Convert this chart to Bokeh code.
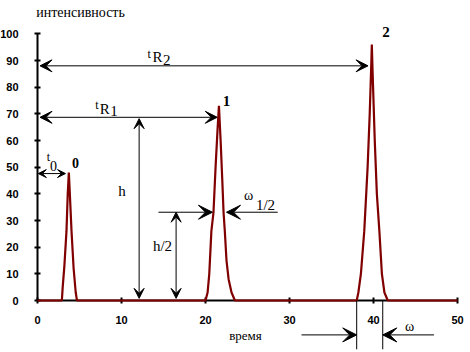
from bokeh.plotting import figure
from bokeh.models import Range1d, Arrow, VeeHead, Label, FixedTicker
from bokeh.embed import file_html
from bokeh.resources import INLINE

# ---- data ----
time = [0, 2.9, 3.0, 3.2, 3.45, 3.6, 3.73, 3.85, 4.05, 4.3, 4.55, 4.7,
        20.0, 20.25, 20.45, 20.7, 20.95, 21.2, 21.45, 21.6, 21.8, 22.0, 22.15, 22.3, 22.5, 22.75, 23.1, 23.5,
        38.0, 38.2, 38.5, 38.9, 39.3, 39.55, 39.75, 39.8, 39.9, 40.15, 40.4, 40.7, 41.0, 41.3, 41.7,
        50]
intensity = [0, 0, 5, 13, 26, 40, 48, 40, 26, 12, 3, 0,
             0, 3, 10, 26, 33, 50, 65, 73, 60, 45, 33, 26, 15, 8, 3, 0,
             0, 3, 10, 26, 50, 70, 90, 96, 85, 60, 40, 26, 10, 3, 0,
             0]
peak_names = ["0", "1", "2"]
retention = [3.73, 21.6, 39.8]
peak_height = [48, 73, 96]
x_ticks = [0, 10, 20, 30, 40, 50]
y_ticks = [0, 10, 20, 30, 40, 50, 60, 70, 80, 90, 100]
base_width = [38.0, 41.1]

SERIF = "Liberation Serif"
SANS = "Liberation Sans"

p = figure(width=470, height=352, output_backend="svg", toolbar_location=None,
           x_range=Range1d(-4.405, 51.548), y_range=Range1d(-19.5, 112.5),
           min_border=0)
p.title.visible = False
p.grid.visible = False
p.outline_line_color = None
p.background_fill_color = "white"
p.border_fill_color = "white"

for ax, ticks, bounds in ((p.xaxis[0], x_ticks, (0, 50)), (p.yaxis[0], y_ticks, (0, 100))):
    ax.fixed_location = 0
    ax.ticker = FixedTicker(ticks=ticks)
    ax.bounds = bounds
    ax.axis_line_width = 2
    ax.axis_line_color = "black"
    ax.major_tick_line_width = 2
    ax.major_tick_line_color = "black"
    ax.major_tick_in = 3
    ax.major_tick_out = 3
    ax.minor_tick_line_color = None
    ax.major_label_text_font = SANS
    ax.major_label_text_font_style = "bold"
    ax.major_label_text_font_size = "11px"
    ax.major_label_text_color = "black"
p.xaxis.major_label_standoff = 12
p.yaxis.major_label_standoff = 16

trace = p.line(time, intensity, line_color="#800000", line_width=2.2)
trace.level = "annotation"

def arrow(x0, y0, x1, y1, size=11, start=True, end=True):
    p.add_layout(Arrow(
        start=VeeHead(size=size, fill_color="black", line_color="black", line_width=1) if start else None,
        end=VeeHead(size=size, fill_color="black", line_color="black", line_width=1) if end else None,
        x_start=x0, y_start=y0, x_end=x1, y_end=y1, line_color="black", line_width=1))

# retention time arrows
arrow(0.3, 88, retention[2] - 0.45, 88, size=12)
arrow(0.3, 68.7, retention[1] - 0.2, 68.7, size=12)
arrow(0.1, 47.6, retention[0] - 0.4, 47.6, size=8)
# peak height h and h/2
arrow(12.1, 68.2, 12.1, 0.8, size=10)
arrow(16.5, 33.1, 16.5, 0.8, size=10)
# width at half height
arrow(14.4, 33.1, 20.83, 33.1, size=14, start=False)
arrow(28.6, 33.1, 22.5, 33.1, size=14, start=False)
# base width
seg = p.segment(x0=base_width, y0=[0, 0], x1=base_width, y1=[-18.3, -18.3], line_color="black", line_width=1)
seg.level = "annotation"
arrow(31.43, -12.9, base_width[0], -12.9, size=14, start=False)
arrow(47.2, -12.9, base_width[1], -12.9, size=14, start=False)

def label(x, y, text, size="13px", font=SERIF, style="normal"):
    p.add_layout(Label(x=x, y=y, text=text, text_font=font, text_font_size=size,
                       text_font_style=style, text_align="center", text_baseline="middle",
                       text_color="black"))

label(5.12, 108, "интенсивность", size="14px")
label(24.76, -13.1, "время", size="13px")
label(44.29, -9.6, "ω", size="14px")
label(10.06, 41.25, "h", size="15px")
label(14.88, 20.6, "h/2", size="15px")
label(25.12, 39.4, "ω", size="14px")
label(27.14, 36.0, "1/2", size="15px")
# t_R1
label(7.08, 73.4, "t", size="12px")
label(8.0, 72.0, "R", size="15px")
label(9.1, 71.0, "1", size="15px")
# t_R2
label(13.3, 92.6, "t", size="12px")
label(14.3, 91.2, "R", size="15px")
label(15.4, 90.2, "2", size="15px")
# t_0
label(1.31, 54.0, "t", size="12px")
label(1.9, 50.6, "0", size="14px")
# peak numbers
label(4.52, 51.6, peak_names[0], size="14px", style="bold")
label(22.5, 75.0, peak_names[1], size="15px", style="bold")
label(41.49, 100.7, peak_names[2], size="15px", style="bold")

open("out.html", "w").write(file_html(p, INLINE))
